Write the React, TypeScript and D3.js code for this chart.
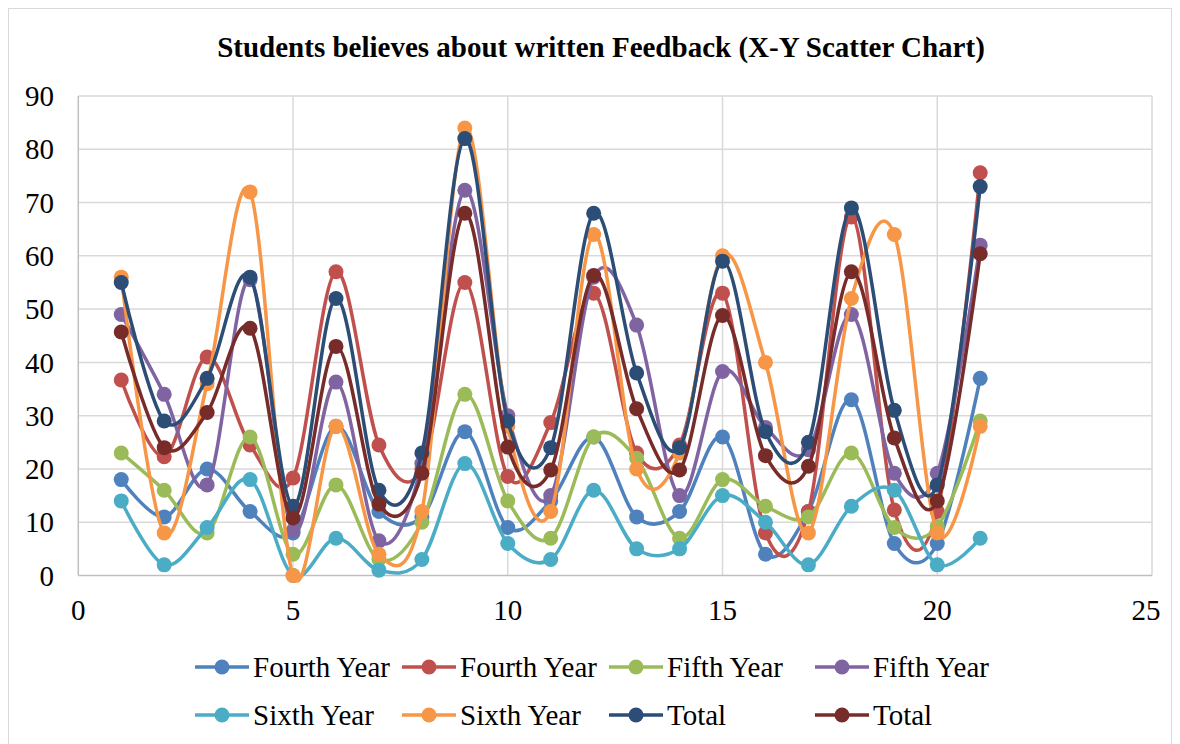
import React, { useEffect, useRef } from 'react';
import * as d3 from 'd3';

const xValues = [1, 2, 3, 4, 5, 6, 7, 8, 9, 10, 11, 12, 13, 14, 15, 16, 17, 18, 19, 20, 21];

const fourthYearA = [18, 11, 20, 12, 8, 28, 12, 11, 27, 9, 14, 26, 11, 12, 26, 4, 12, 33, 6, 6, 37];
const fourthYearB = [36.7, 22.3, 41, 24.5, 18.3, 57, 24.5, 20, 55, 18.6, 28.7, 53, 23, 24.5, 53, 8, 12, 67.3, 12.3, 12, 75.6];
const fifthYearA = [23, 16, 8, 26, 4, 17, 3, 10, 34, 14, 7, 26, 22, 7, 18, 13, 11, 23, 9, 9.2, 29];
const fifthYearB = [49, 34, 17, 55.5, 8.4, 36.3, 6.5, 21, 72.3, 30, 15, 56, 47, 15, 38.3, 27.8, 23.6, 49, 19.2, 19.2, 62];
const sixthYearA = [14, 2, 9, 18, 0, 7, 1, 3, 21, 6, 3, 16, 5, 5, 15, 10, 2, 13, 16, 2, 7];
const sixthYearB = [56, 8, 36, 72, 0, 28, 4, 12, 84, 28, 12, 64, 20, 23, 60, 40, 8, 52, 64, 8, 28];
const totalA = [55, 29, 37, 56, 13, 52, 16, 23, 82, 29, 24, 68, 38, 24, 59, 27, 25, 69, 31, 17, 73];
const totalB = [45.7, 24, 30.6, 46.4, 10.8, 43, 13.4, 19.2, 68, 24.1, 19.8, 56.3, 31.3, 19.8, 48.8, 22.5, 20.5, 57, 25.8, 14, 60.4];

const seriesNames = ['Fourth Year', 'Fourth Year', 'Fifth Year', 'Fifth Year', 'Sixth Year', 'Sixth Year', 'Total', 'Total'];
const seriesValues = [fourthYearA, fourthYearB, fifthYearA, fifthYearB, sixthYearA, sixthYearB, totalA, totalB];
const colors = ['#4F81BD', '#C0504D', '#9BBB59', '#8064A2', '#4BACC6', '#F79646', '#2C4D75', '#772C2A'];

const xTicks = [0, 5, 10, 15, 20, 25];
const yTicks = [0, 10, 20, 30, 40, 50, 60, 70, 80, 90];

const App: React.FC = () => {
  const svgRef = useRef<SVGSVGElement>(null);

  useEffect(() => {
    if (!svgRef.current) return;
    const svg = d3.select(svgRef.current);
    svg.selectAll('*').remove();

    const font = '"Liberation Serif", "Times New Roman", serif';
    const plot = { left: 78.3, right: 1152, top: 96, bottom: 575.5 };

    // chart frame
    svg.append('rect')
      .attr('x', 8.5).attr('y', 8.5)
      .attr('width', 1163).attr('height', 760)
      .attr('fill', '#fff')
      .attr('stroke', '#d9d9d9')
      .attr('stroke-width', 1);

    svg.append('text')
      .attr('x', 601).attr('y', 57)
      .attr('text-anchor', 'middle')
      .attr('font-family', font)
      .attr('font-weight', 'bold')
      .attr('font-size', 29)
      .attr('fill', '#000')
      .text('Students believes about written Feedback (X-Y Scatter Chart)');

    const xScale = d3.scaleLinear().domain([0, 25]).range([plot.left, plot.right]);
    const yScale = d3.scaleLinear().domain([0, 90]).range([plot.bottom, plot.top]);

    // grid
    svg.append('g').selectAll('line')
      .data(yTicks.filter(d => d > 0))
      .enter().append('line')
      .attr('x1', plot.left).attr('x2', plot.right)
      .attr('y1', d => yScale(d)).attr('y2', d => yScale(d))
      .attr('stroke', '#d9d9d9').attr('stroke-width', 1.5);

    svg.append('g').selectAll('line')
      .data(xTicks.filter(d => d > 0))
      .enter().append('line')
      .attr('x1', d => xScale(d)).attr('x2', d => xScale(d))
      .attr('y1', plot.top).attr('y2', plot.bottom)
      .attr('stroke', '#d9d9d9').attr('stroke-width', 1.5);

    // axes lines
    svg.append('line')
      .attr('x1', plot.left).attr('x2', plot.left)
      .attr('y1', plot.top).attr('y2', plot.bottom)
      .attr('stroke', '#bfbfbf').attr('stroke-width', 1.5);
    svg.append('line')
      .attr('x1', plot.left).attr('x2', plot.right)
      .attr('y1', plot.bottom).attr('y2', plot.bottom)
      .attr('stroke', '#bfbfbf').attr('stroke-width', 1.5);

    // tick labels
    svg.append('g').selectAll('text')
      .data(yTicks)
      .enter().append('text')
      .attr('x', 54).attr('y', d => yScale(d))
      .attr('dy', '0.35em')
      .attr('text-anchor', 'end')
      .attr('font-family', font).attr('font-size', 29)
      .text(d => d);

    svg.append('g').selectAll('text')
      .data(xTicks)
      .enter().append('text')
      .attr('x', d => xScale(d) - (d === 25 ? 6 : 0)).attr('y', 620)
      .attr('text-anchor', 'middle')
      .attr('font-family', font).attr('font-size', 29)
      .text(d => d);

    const line = d3.line<[number, number]>()
      .x(d => xScale(d[0]))
      .y(d => yScale(d[1]))
      .curve(d3.curveCardinal.tension(0));

    seriesValues.forEach((vals, i) => {
      const pts = xValues.map((x, j) => [x, vals[j]] as [number, number]);
      svg.append('path')
        .datum(pts)
        .attr('fill', 'none')
        .attr('stroke', colors[i])
        .attr('stroke-width', 3.5)
        .attr('stroke-linejoin', 'round')
        .attr('d', line);
      svg.append('g').selectAll('circle')
        .data(pts)
        .enter().append('circle')
        .attr('cx', d => xScale(d[0]))
        .attr('cy', d => yScale(d[1]))
        .attr('r', 7.5)
        .attr('fill', colors[i]);
    });

    // legend
    const colX = [195, 402, 609, 815];
    const rowY = [667, 715];
    seriesNames.forEach((name, i) => {
      const gx = colX[i % 4];
      const gy = rowY[Math.floor(i / 4)];
      const item = svg.append('g').attr('transform', `translate(${gx},${gy})`);
      item.append('line')
        .attr('x1', 0).attr('x2', 54)
        .attr('y1', 0).attr('y2', 0)
        .attr('stroke', colors[i]).attr('stroke-width', 3.5);
      item.append('circle')
        .attr('cx', 27).attr('cy', 0).attr('r', 7.5)
        .attr('fill', colors[i]);
      item.append('text')
        .attr('x', 58).attr('y', 0).attr('dy', '0.35em')
        .attr('font-family', font).attr('font-size', 29)
        .text(name);
    });
  }, []);

  return (
    <svg
      ref={svgRef}
      width={1180}
      height={744}
      style={{ position: 'absolute', left: 0, top: 0, background: '#fff' }}
    />
  );
};

export default App;
